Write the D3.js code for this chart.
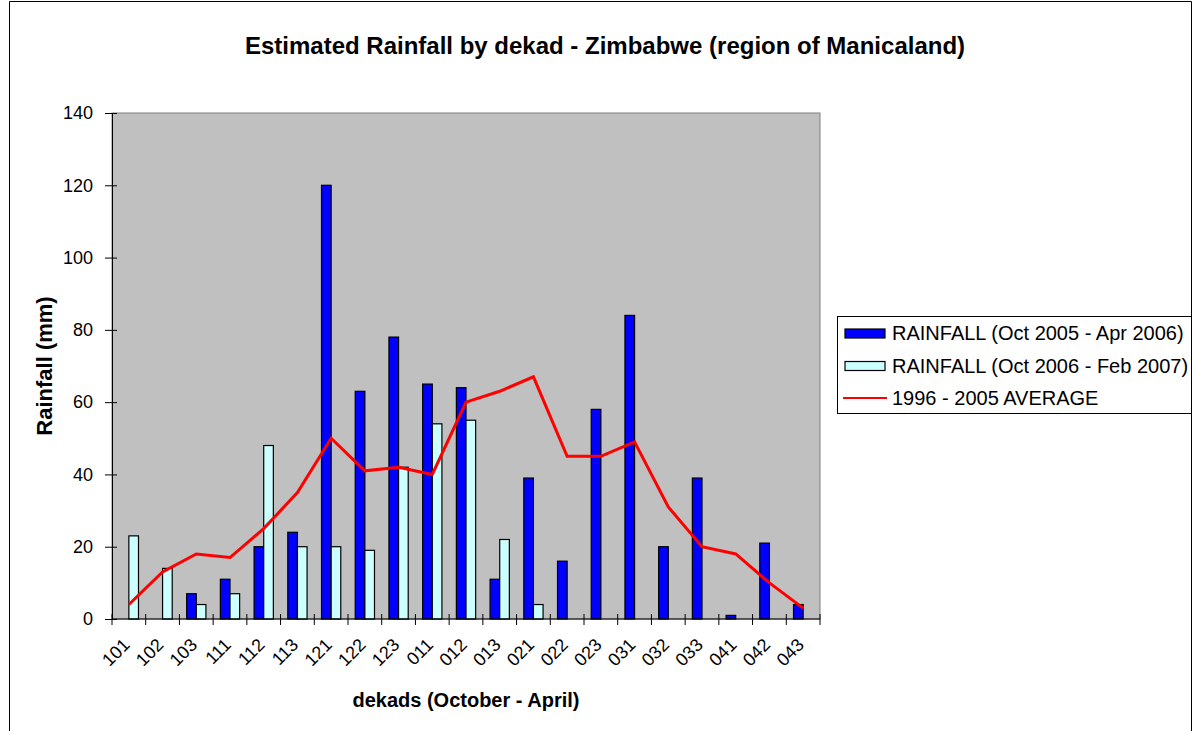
<!DOCTYPE html>
<html>
<head>
<meta charset="utf-8">
<script src="https://cdn.jsdelivr.net/npm/d3@7"></script>
<style>
  body { margin: 0; background: #fff; }
  svg { font-family: "Liberation Sans", Arial, sans-serif; }
</style>
</head>
<body>
<svg id="chart"></svg>
<script>
// dekad labels (October - April)
const dekads = ["101", "102", "103", "111", "112", "113", "121", "122", "123",
  "011", "012", "013", "021", "022", "023", "031", "032", "033", "041", "042", "043"];

// RAINFALL (Oct 2005 - Apr 2006)
const rain0506 = [0, 0, 7, 11, 20, 24, 120, 63, 78, 65, 64, 11, 39, 16, 58, 84, 20, 39, 1, 21, 4];

// RAINFALL (Oct 2006 - Feb 2007)
const rain0607 = [23, 14, 4, 7, 48, 20, 20, 19, 42, 54, 55, 22, 4,
  null, null, null, null, null, null, null, null];

// 1996 - 2005 AVERAGE
const average = [4, 13, 18, 17, 25, 35, 50, 41, 42, 40, 60, 63, 67, 45, 45, 49, 31, 20, 18, 10, 3];

const yTicks = [0, 20, 40, 60, 80, 100, 120, 140];

const seriesNames = ["RAINFALL (Oct 2005 - Apr 2006)", "RAINFALL (Oct 2006 - Feb 2007)", "1996 - 2005 AVERAGE"];

const width = 1194;
const height = 731;
const margin = { top: 113, right: 374, bottom: 112, left: 112 };
const innerWidth = width - margin.left - margin.right;
const innerHeight = height - margin.top - margin.bottom;

const svg = d3.select("#chart")
  .attr("width", width)
  .attr("height", height);

// outer chart frame (bottom edge runs past the window)
svg.append("path")
  .attr("d", "M9.5,731V1.5H1191.5V731")
  .attr("fill", "none")
  .attr("stroke", "#000");

svg.append("text")
  .attr("x", 605).attr("y", 54)
  .attr("text-anchor", "middle")
  .attr("font-size", 24)
  .attr("font-weight", "bold")
  .text("Estimated Rainfall by dekad - Zimbabwe (region of Manicaland)");

const chartGroup = svg.append("g")
  .attr("transform", `translate(${margin.left},${margin.top})`);

const xScale = d3.scaleBand()
  .domain(dekads)
  .range([0, innerWidth]);

// two bars per band, gap width 150%
const barWidth = xScale.bandwidth() / 3.5;

const yScale = d3.scaleLinear()
  .domain([0, 140])
  .range([innerHeight, 0]);

// plot background
chartGroup.append("rect")
  .attr("width", innerWidth)
  .attr("height", innerHeight)
  .attr("fill", "#c0c0c0")
  .attr("stroke", "#808080");

// bars
const barSeries = [
  { values: rain0506, fill: "#0000ff", offset: -barWidth },
  { values: rain0607, fill: "#ccffff", offset: 0 }
];

barSeries.forEach(s => {
  chartGroup.selectAll(null)
    .data(dekads.map((d, i) => ({ d: d, v: s.values[i] })).filter(p => p.v != null))
    .enter().append("rect")
    .attr("x", p => xScale(p.d) + xScale.bandwidth() / 2 + s.offset)
    .attr("y", p => yScale(p.v))
    .attr("width", barWidth)
    .attr("height", p => innerHeight - yScale(p.v))
    .attr("fill", s.fill)
    .attr("stroke", "#000")
    .attr("stroke-width", 1.2);
});

// average line
const line = d3.line()
  .x((v, i) => xScale(dekads[i]) + xScale.bandwidth() / 2)
  .y(v => yScale(v));

chartGroup.append("path")
  .datum(average)
  .attr("d", line)
  .attr("fill", "none")
  .attr("stroke", "#ff0000")
  .attr("stroke-width", 3);

// y axis
const yAxis = chartGroup.append("g")
  .call(d3.axisLeft(yScale).tickValues(yTicks).tickSize(7).tickPadding(12));
yAxis.selectAll(".tick line").attr("x2", -7).attr("x1", 5);
yAxis.selectAll("text").attr("font-size", 18).attr("font-family", "Liberation Sans, Arial, sans-serif").attr("fill", "#000");
yAxis.select(".domain").attr("stroke", "#000");

// x axis with ticks on band edges
const xAxisGroup = chartGroup.append("g")
  .attr("transform", `translate(0,${innerHeight})`);
xAxisGroup.append("line")
  .attr("x1", 0).attr("x2", innerWidth)
  .attr("stroke", "#000");
xAxisGroup.selectAll(".edge")
  .data(dekads.concat(["end"]))
  .enter().append("line")
  .attr("x1", (d, i) => i < dekads.length ? xScale(d) : innerWidth)
  .attr("x2", (d, i) => i < dekads.length ? xScale(d) : innerWidth)
  .attr("y1", -5).attr("y2", 6)
  .attr("stroke", "#000");
xAxisGroup.selectAll(".xlabel")
  .data(dekads)
  .enter().append("text")
  .attr("text-anchor", "end")
  .attr("font-size", 18)
  .attr("transform", d => `translate(${xScale(d) + xScale.bandwidth() / 2 + 2},${27}) rotate(-45)`)
  .text(d => d);

// axis titles
svg.append("text")
  .attr("x", margin.left + innerWidth / 2).attr("y", 707)
  .attr("text-anchor", "middle")
  .attr("font-size", 20)
  .attr("font-weight", "bold")
  .text("dekads (October - April)");

svg.append("text")
  .attr("transform", `translate(52,${margin.top + innerHeight / 2}) rotate(-90)`)
  .attr("text-anchor", "middle")
  .attr("font-size", 22)
  .attr("font-weight", "bold")
  .text("Rainfall (mm)");

// legend
const legend = svg.append("g").attr("transform", "translate(837,316)");
legend.append("rect")
  .attr("x", 0.5).attr("y", 0.5)
  .attr("width", 354).attr("height", 97)
  .attr("fill", "#fff")
  .attr("stroke", "#000");

const legendItems = [
  { name: seriesNames[0], type: "bar", fill: "#0000ff" },
  { name: seriesNames[1], type: "bar", fill: "#ccffff" },
  { name: seriesNames[2], type: "line", stroke: "#ff0000" }
];
legendItems.forEach((item, i) => {
  const y = 17 + i * 32.5;
  if (item.type === "bar") {
    legend.append("rect")
      .attr("x", 8).attr("y", y - 4)
      .attr("width", 40).attr("height", 9)
      .attr("fill", item.fill)
      .attr("stroke", "#000")
      .attr("stroke-width", 1.2);
  } else {
    legend.append("line")
      .attr("x1", 6).attr("x2", 50)
      .attr("y1", y).attr("y2", y)
      .attr("stroke", item.stroke)
      .attr("stroke-width", 2);
  }
  legend.append("text")
    .attr("x", 55).attr("y", y + 7)
    .attr("font-size", 20)
    .text(item.name);
});
</script>
</body>
</html>
